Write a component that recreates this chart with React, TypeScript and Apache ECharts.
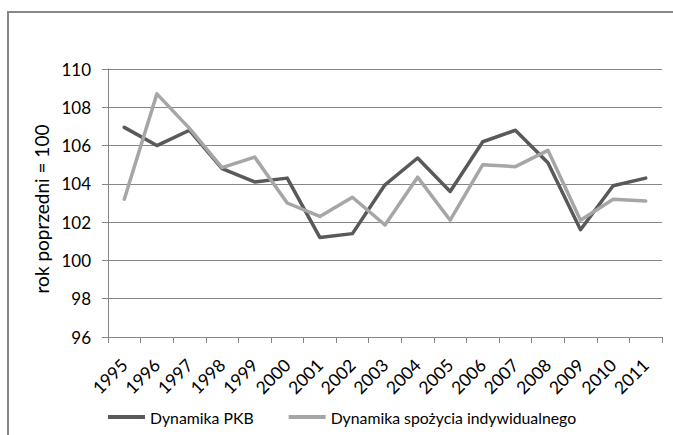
import React, { useEffect, useRef } from "react";
import * as echarts from "echarts";

const years = ["1995","1996","1997","1998","1999","2000","2001","2002","2003","2004","2005","2006","2007","2008","2009","2010","2011"];
const pkb = [106.95,106.0,106.8,104.8,104.1,104.3,101.2,101.4,103.95,105.35,103.6,106.2,106.8,105.1,101.6,103.9,104.3];
const spozycie = [103.2,108.7,106.9,104.85,105.4,103.0,102.3,103.3,101.85,104.35,102.1,105.0,104.9,105.75,102.1,103.2,103.1];
const seriesNames = ["Dynamika PKB", "Dynamika spożycia indywidualnego"];
const yAxisTitle = "rok poprzedni = 100";

const FONT = "Lato, 'Liberation Sans', sans-serif";

export default function App() {
  const ref = useRef<HTMLDivElement>(null);
  useEffect(() => {
    document.body.style.margin = "0";
    const chart = echarts.init(ref.current!, null, { renderer: "svg" });
    chart.setOption({
      animation: false,
      backgroundColor: "#ffffff",
      textStyle: { fontFamily: FONT },
      graphic: [
        {
          type: "rect",
          shape: { x: 8, y: 12, width: 700, height: 500 },
          style: { fill: "none", stroke: "#888888", lineWidth: 2 },
          z: -1,
          silent: true,
        },
      ],
      grid: { left: 108, right: 11, top: 69, bottom: 98, containLabel: false },
      legend: {
        left: 103,
        top: 404,
        itemWidth: 37,
        itemHeight: 4,
        itemGap: 35,
        icon: "rect",
        textStyle: { fontFamily: FONT, fontSize: 15.8, color: "#000" },
        data: seriesNames,
      },
      xAxis: {
        type: "category",
        data: years,
        boundaryGap: true,
        axisLine: { show: true, lineStyle: { color: "#868686", width: 1 } },
        axisTick: { show: true, alignWithLabel: false, length: 6, lineStyle: { color: "#868686" } },
        axisLabel: {
          rotate: 45,
          interval: 0,
          margin: 25,
          fontFamily: FONT,
          fontSize: 17.5,
          color: "#000",
        },
        splitLine: { show: false },
      },
      yAxis: {
        type: "value",
        min: 96,
        max: 110,
        interval: 2,
        name: yAxisTitle,
        nameLocation: "middle",
        nameRotate: 90,
        nameGap: 56,
        nameTextStyle: { fontFamily: FONT, fontSize: 19, color: "#000", padding: [0, 12, 0, 0] },
        axisLine: { show: true, lineStyle: { color: "#868686", width: 1 } },
        axisTick: { show: true, inside: false, length: 6, lineStyle: { color: "#868686" } },
        axisLabel: { margin: 17, fontFamily: FONT, fontSize: 17, color: "#000" },
        splitLine: { show: true, lineStyle: { color: "#868686", width: 1 } },
      },
      series: [
        {
          name: seriesNames[0],
          type: "line",
          data: pkb,
          symbol: "none",
          color: "#595959",
          lineStyle: { color: "#595959", width: 3.5, cap: "round", join: "round" },
        },
        {
          name: seriesNames[1],
          type: "line",
          data: spozycie,
          symbol: "none",
          color: "#a6a6a6",
          lineStyle: { color: "#a6a6a6", width: 3.5, cap: "round", join: "round" },
        },
      ],
    });
    return () => chart.dispose();
  }, []);
  return (
    <div
      ref={ref}
      style={{ width: 673, height: 435, position: "fixed", left: 0, top: 0 }}
    />
  );
}
